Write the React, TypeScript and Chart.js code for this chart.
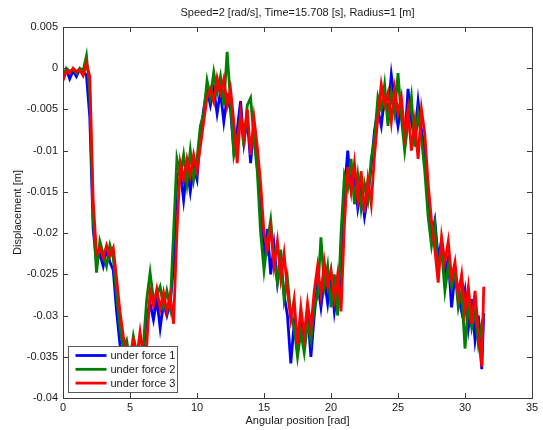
import React, { useEffect, useRef } from "react";
import { Chart, registerables } from "chart.js";

Chart.register(...registerables);

const chartTitle = "Speed=2 [rad/s], Time=15.708 [s], Radius=1 [m]";
const xAxisTitle = "Angular position [rad]";
const yAxisTitle = "Displacement [m]";

const angle = [
  0, 0.25, 0.5, 0.75, 1, 1.25, 1.5, 1.75, 2, 2.25, 2.5, 2.75, 3, 3.25, 3.5, 3.75,
  4, 4.25, 4.5, 4.75, 5, 5.25, 5.5, 5.75, 6, 6.25, 6.5, 6.75, 7, 7.25, 7.5, 7.75,
  8, 8.25, 8.5, 8.75, 9, 9.25, 9.5, 9.75, 10, 10.25, 10.5, 10.75, 11, 11.25, 11.5, 11.75,
  12, 12.25, 12.5, 12.75, 13, 13.25, 13.5, 13.75, 14, 14.25, 14.5, 14.75, 15, 15.25, 15.5, 15.75,
  16, 16.25, 16.5, 16.75, 17, 17.25, 17.5, 17.75, 18, 18.25, 18.5, 18.75, 19, 19.25, 19.5, 19.75,
  20, 20.25, 20.5, 20.75, 21, 21.25, 21.5, 21.75, 22, 22.25, 22.5, 22.75, 23, 23.25, 23.5, 23.75,
  24, 24.25, 24.5, 24.75, 25, 25.25, 25.5, 25.75, 26, 26.25, 26.5, 26.75, 27, 27.25, 27.5, 27.75,
  28, 28.25, 28.5, 28.75, 29, 29.25, 29.5, 29.75, 30, 30.25, 30.5, 30.75, 31, 31.25, 31.4,
];

const force1 = [
  -0.0008, -0.0002, -0.0013, -0.0003,
  -0.001, -0.0001, -0.0005, -0.0008,
  -0.006, -0.0195, -0.0235, -0.0225,
  -0.024, -0.022, -0.0235, -0.0245,
  -0.0295, -0.0335, -0.036, -0.035,
  -0.036, -0.0345, -0.0355, -0.034,
  -0.0345, -0.03, -0.0285, -0.0305,
  -0.028, -0.0315, -0.0285, -0.03,
  -0.0285, -0.024, -0.013, -0.0125,
  -0.016, -0.012, -0.015, -0.012,
  -0.0135, -0.008, -0.005, -0.0025,
  -0.0045, -0.0025, -0.0055, -0.0028,
  -0.0065, -0.0035, -0.005, -0.01,
  -0.0075, -0.004, -0.009, -0.006,
  -0.0115, -0.007, -0.012, -0.017,
  -0.023, -0.0195, -0.025, -0.0215,
  -0.026, -0.0235, -0.0275, -0.03,
  -0.0358, -0.031, -0.034, -0.03,
  -0.033, -0.0295, -0.035, -0.03,
  -0.026, -0.029, -0.0255, -0.0285,
  -0.025, -0.0295, -0.0265, -0.027,
  -0.015, -0.01, -0.0145, -0.013,
  -0.017, -0.0145, -0.018, -0.0155,
  -0.012, -0.0075, -0.005, -0.007,
  -0.0035, -0.0055, -0.0008, -0.004,
  -0.007, -0.0045, -0.009, -0.0025,
  -0.0065, -0.0085, -0.004, -0.0075,
  -0.01, -0.0165, -0.0205, -0.0185,
  -0.023, -0.021, -0.025, -0.023,
  -0.029, -0.025, -0.0275, -0.0295,
  -0.027, -0.0315, -0.028, -0.033,
  -0.03, -0.0365, -0.0297,
];

const force2 = [
  -0.0012, 0, -0.0004, -0.0001,
  -0.0006, 0, -0.0003, 0.0015,
  -0.003, -0.018, -0.0248, -0.021,
  -0.0225, -0.024, -0.0215, -0.023,
  -0.0275, -0.0315, -0.034, -0.033,
  -0.0355, -0.0325, -0.0345, -0.033,
  -0.0335, -0.028, -0.0248, -0.028,
  -0.0275, -0.0265, -0.029, -0.027,
  -0.029, -0.02, -0.011, -0.013,
  -0.0105, -0.014, -0.01, -0.0135,
  -0.011, -0.007, -0.0055, -0.0015,
  -0.0035, -0.0005, -0.003, -0.001,
  -0.0045, 0.002, -0.004, -0.0105,
  -0.0085, -0.006, -0.0095, -0.0045,
  -0.0036, -0.0085, -0.0125, -0.02,
  -0.0245, -0.021, -0.0184, -0.023,
  -0.026, -0.022, -0.028, -0.0255,
  -0.03, -0.0315, -0.035, -0.032,
  -0.0345, -0.031, -0.033, -0.029,
  -0.0275, -0.0205, -0.0265, -0.024,
  -0.029, -0.025, -0.03, -0.02,
  -0.013, -0.0145, -0.011, -0.0165,
  -0.013, -0.017, -0.014, -0.016,
  -0.011, -0.0085, -0.0035, -0.005,
  -0.002, -0.007, -0.003, -0.0055,
  -0.0006, -0.006, -0.01, -0.0065,
  -0.0035, -0.0095, -0.0055, -0.0085,
  -0.0125, -0.018, -0.0215, -0.019,
  -0.0245, -0.022, -0.027, -0.024,
  -0.0265, -0.0245, -0.029, -0.027,
  -0.034, -0.0285, -0.0315, -0.0295,
  -0.0335, -0.031, -0.03,
];

const force3 = [
  -0.0015, -0.0003, -0.0006, 0,
  -0.0004, -0.0002, -0.0009, 0.0006,
  -0.001, -0.016, -0.0225, -0.0218,
  -0.023, -0.0215, -0.0228, -0.0218,
  -0.0255, -0.0295, -0.0325, -0.0345,
  -0.0348, -0.033, -0.0352, -0.032,
  -0.035, -0.0335, -0.027, -0.0288,
  -0.0268, -0.0292, -0.0272, -0.0295,
  -0.0275, -0.031, -0.02, -0.0115,
  -0.0135, -0.011, -0.013, -0.0105,
  -0.0125, -0.0095, -0.0065, -0.0035,
  -0.0025, -0.004, -0.0012, -0.003,
  -0.0013, -0.0045, -0.0025, -0.0065,
  -0.0115, -0.0055, -0.0085, -0.005,
  -0.0105, -0.006, -0.0095, -0.014,
  -0.02, -0.022, -0.0195, -0.024,
  -0.021, -0.0255, -0.0225, -0.027,
  -0.0305, -0.028, -0.0335, -0.029,
  -0.0325, -0.0285, -0.0315, -0.027,
  -0.024, -0.0275, -0.0235, -0.0265,
  -0.0245, -0.028, -0.025, -0.0295,
  -0.019, -0.012, -0.015, -0.0115,
  -0.016, -0.0125, -0.0175, -0.0135,
  -0.0165, -0.0105, -0.006, -0.002,
  -0.0045, -0.003, -0.0065, -0.0025,
  -0.0055, -0.0035, -0.008, -0.005,
  -0.01, -0.0065, -0.011, -0.005,
  -0.008, -0.014, -0.0185, -0.022,
  -0.026, -0.0205, -0.0235, -0.021,
  -0.0255, -0.0235, -0.0275, -0.025,
  -0.0295, -0.0265, -0.031, -0.027,
  -0.032, -0.0362, -0.0265,
];

const seriesLabels = ["under force 1", "under force 2", "under force 3"];
const seriesColors = ["#0000ff", "#008000", "#ff0000"];
const seriesValues = [force1, force2, force3];

const xTickValues = [0, 5, 10, 15, 20, 25, 30, 35];
const xTickLabels = ["0", "5", "10", "15", "20", "25", "30", "35"];
const yTickValues = [0.005, 0, -0.005, -0.01, -0.015, -0.02, -0.025, -0.03, -0.035, -0.04];
const yTickLabels = ["0.005", "0", "-0.005", "-0.01", "-0.015", "-0.02", "-0.025", "-0.03", "-0.035", "-0.04"];

const FONT = '"Liberation Sans", Arial, sans-serif';
const TEXT = "#1a1a1a";
const AXIS = "#3c3c3c";

const framePlugin = {
  id: "matlabFrame",
  afterDraw(chart: any) {
    const { ctx, chartArea: a, scales } = chart;
    ctx.save();
    // title centred over the axes
    ctx.font = "11px " + FONT;
    ctx.fillStyle = TEXT;
    ctx.textAlign = "center";
    ctx.textBaseline = "middle";
    ctx.fillText(chartTitle, (a.left + a.right) / 2, 12.5);

    ctx.strokeStyle = AXIS;
    ctx.lineWidth = 1;
    ctx.strokeRect(Math.round(a.left) + 0.5, Math.round(a.top) + 0.5, Math.round(a.right - a.left), Math.round(a.bottom - a.top));
    const tl = 5;
    ctx.beginPath();
    xTickValues.forEach((v) => {
      const px = Math.round(scales.x.getPixelForValue(v)) + 0.5;
      ctx.moveTo(px, a.bottom);
      ctx.lineTo(px, a.bottom - tl);
      ctx.moveTo(px, a.top);
      ctx.lineTo(px, a.top + tl);
    });
    yTickValues.forEach((v) => {
      const py = Math.round(scales.y.getPixelForValue(v)) + 0.5;
      ctx.moveTo(a.left, py);
      ctx.lineTo(a.left + tl, py);
      ctx.moveTo(a.right, py);
      ctx.lineTo(a.right - tl, py);
    });
    ctx.stroke();

    // legend box (lower-left inside axes)
    const bx = Math.round(a.left) + 5.5;
    const bh = 46;
    const bw = 109;
    const by = Math.round(a.bottom) - 5.5 - bh;
    ctx.fillStyle = "#ffffff";
    ctx.fillRect(bx, by, bw, bh);
    ctx.strokeStyle = "#5a5a5a";
    ctx.lineWidth = 1;
    ctx.strokeRect(bx, by, bw, bh);
    ctx.font = "11px " + FONT;
    ctx.textBaseline = "middle";
    ctx.textAlign = "left";
    chart.data.datasets.forEach((ds: any, i: number) => {
      const ry = by + 9 + i * 13.8;
      ctx.strokeStyle = ds.borderColor;
      ctx.lineWidth = 2.8;
      ctx.beginPath();
      ctx.moveTo(bx + 7, ry);
      ctx.lineTo(bx + 38, ry);
      ctx.stroke();
      ctx.fillStyle = TEXT;
      ctx.fillText(ds.label, bx + 42, ry + 0.5);
    });
    ctx.restore();
  },
};

export default function App() {
  const canvasRef = useRef<HTMLCanvasElement | null>(null);

  useEffect(() => {
    document.body.style.margin = "0";
    const canvas = canvasRef.current;
    if (!canvas) return;
    const datasets = seriesValues.map((vals, i) => ({
      label: seriesLabels[i],
      data: angle.map((x, j) => ({ x, y: vals[j] })),
      borderColor: seriesColors[i],
      backgroundColor: seriesColors[i],
      borderWidth: 2.8,
      pointRadius: 0,
      tension: 0,
      fill: false,
      order: 3 - i,
    }));
    const chart = new Chart(canvas, {
      type: "line",
      data: { datasets },
      plugins: [framePlugin],
      options: {
        animation: false,
        responsive: false,
        devicePixelRatio: 1,
        layout: { padding: { left: 0, right: 11, top: 27, bottom: 0 } },
        plugins: {
          legend: { display: false },
          tooltip: { enabled: false },
          title: { display: false },
        },
        scales: {
          x: {
            type: "linear",
            min: 0,
            max: 35,
            afterBuildTicks: (scale: any) => {
              scale.ticks = xTickValues.map((v) => ({ value: v }));
            },
            afterFit: (scale: any) => {
              scale.height = 32;
            },
            ticks: {
              color: TEXT,
              font: { family: FONT, size: 11 },
              padding: 3,
              maxRotation: 0,
              autoSkip: false,
              callback: (v: any) => {
                const k = xTickValues.indexOf(Number(v));
                return k >= 0 ? xTickLabels[k] : "";
              },
            },
            grid: { display: false, drawTicks: false },
            border: { display: false },
            title: {
              display: true,
              text: xAxisTitle,
              color: TEXT,
              font: { family: FONT, size: 11 },
              padding: { top: 0, bottom: 2.8 },
            },
          },
          y: {
            type: "linear",
            min: -0.04,
            max: 0.005,
            afterBuildTicks: (scale: any) => {
              scale.ticks = yTickValues.map((v) => ({ value: v }));
            },
            afterFit: (scale: any) => {
              scale.width = 63;
            },
            ticks: {
              color: TEXT,
              font: { family: FONT, size: 11 },
              padding: 5,
              autoSkip: false,
              callback: (v: any) => {
                const k = yTickValues.findIndex((t) => Math.abs(t - Number(v)) < 1e-9);
                return k >= 0 ? yTickLabels[k] : "";
              },
            },
            grid: { display: false, drawTicks: false },
            border: { display: false },
            title: {
              display: true,
              text: yAxisTitle,
              color: TEXT,
              font: { family: FONT, size: 11 },
              padding: { top: 11.4, bottom: 0 },
            },
          },
        },
      },
    } as any);
    return () => chart.destroy();
  }, []);

  return (
    <div style={{ width: 543, height: 430, background: "#ffffff" }}>
      <canvas ref={canvasRef} width={543} height={430} style={{ width: 543, height: 430, display: "block" }} />
    </div>
  );
}
